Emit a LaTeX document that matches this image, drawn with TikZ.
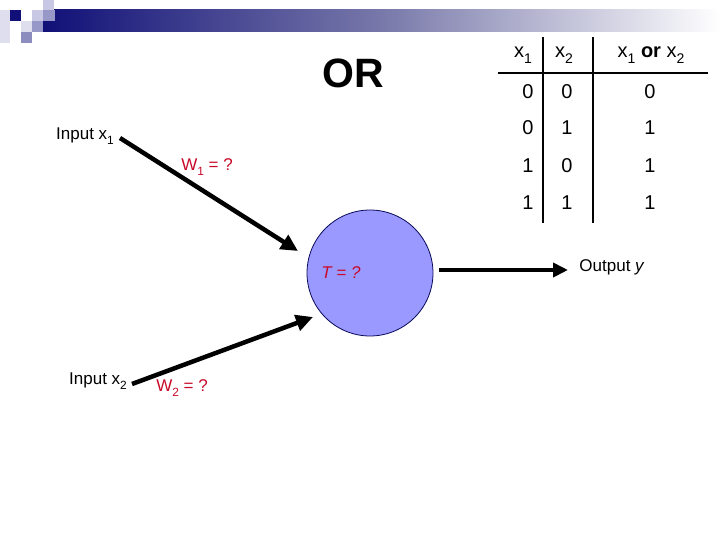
\documentclass[tikz,border=0pt]{standalone}
\usepackage{fontspec}
\setmainfont{Liberation Sans}
\usetikzlibrary{arrows.meta}
\definecolor{navy}{RGB}{16,16,120}
\definecolor{midnavy}{RGB}{120,120,170}
\definecolor{lav1}{RGB}{200,200,228}
\definecolor{lav2}{RGB}{152,152,200}
\definecolor{lav3}{RGB}{222,222,238}
\definecolor{lav4}{RGB}{140,140,190}
\definecolor{wred}{RGB}{200,10,40}
\definecolor{cfill}{RGB}{153,153,255}
\definecolor{cline}{RGB}{10,10,90}
\newcommand{\lowsub}[1]{\raisebox{-0.55ex}{\scalebox{0.7}{#1}}}
\tikzset{
  lbl/.style={inner sep=0pt, font=\fontsize{17}{19}\selectfont},
  rlbl/.style={lbl, text=wred},
  tbl/.style={inner sep=0pt, font=\fontsize{20}{22}\selectfont},
  wire/.style={line width=4.5pt, -{Triangle[length=17pt,width=16pt]}},
  rule/.style={line width=2.6pt},
}
\begin{document}
\begin{tikzpicture}[x=1pt,y=-1pt]
\useasboundingbox (0,0) rectangle (720,540);
% header decoration
\shade[left color=navy, right color=white, middle color=midnavy] (43,10) rectangle (720,32);
\fill[lav3] (0,10) rectangle (10,43);
\fill[navy] (10,10) rectangle (21,21);
\fill[lav1] (43,0) rectangle (54,10);
\fill[lav1] (32,10) rectangle (43,21);
\fill[lav2] (43,10) rectangle (55,21);
\fill[lav3] (21,21) rectangle (32,32);
\fill[lav2] (32,21) rectangle (43,32);
\fill[lav4] (21,32) rectangle (32,43);
% title
\node[inner sep=0pt, font=\fontsize{41}{44}\selectfont\bfseries] (title) at (353,73) {OR};
% neuron
\node[circle, draw=cline, line width=0.8pt, fill=cfill, minimum size=126pt, inner sep=0pt] (neuron) at (370,273) {};
\node[inner sep=0pt, text=wred, font=\fontsize{17}{19}\selectfont\itshape] (thr) at (341,273) {T = ?};
% labels
\node[lbl] (in1) at (85,136) {Input x\lowsub{1}};
\node[lbl] (in2) at (98,381) {Input x\lowsub{2}};
\node[rlbl] (w1) at (207,167) {W\lowsub{1} = ?};
\node[rlbl] (w2) at (182,388) {W\lowsub{2} = ?};
\node[lbl] (out) at (612,267) {Output \textit{y}};
% connectors
\coordinate (s1) at (120,138);
\coordinate (t1) at (298,251);
\coordinate (s2) at (132,384);
\coordinate (t2) at (313,317);
\coordinate (s3) at (439,270);
\coordinate (t3) at (568,270);
\draw[wire] (s1) -- (t1);
\draw[wire] (s2) -- (t2);
\draw[line width=4pt, -{Triangle[length=15pt,width=14pt]}] (s3) -- (t3);
% truth table
\draw[rule] (543,37) -- (543,223);
\draw[rule] (593,37) -- (593,223);
\draw[rule] (498,73) -- (708,73);
\node[tbl] (h1) at (523,55) {x\lowsub{1}};
\node[tbl] (h2) at (564,55) {x\lowsub{2}};
\node[tbl] (h3) at (651,55) {x\lowsub{1} \textbf{or} x\lowsub{2}};
\node[tbl] (a1) at (528,92) {0};
\node[tbl] (a2) at (567,92) {0};
\node[tbl] (a3) at (650,92) {0};
\node[tbl] (b1) at (528,128) {0};
\node[tbl] (b2) at (567,128) {1};
\node[tbl] (b3) at (650,128) {1};
\node[tbl] (c1) at (528,166) {1};
\node[tbl] (c2) at (567,166) {0};
\node[tbl] (c3) at (650,166) {1};
\node[tbl] (d1) at (528,203) {1};
\node[tbl] (d2) at (567,203) {1};
\node[tbl] (d3) at (650,203) {1};
\end{tikzpicture}
\end{document}
